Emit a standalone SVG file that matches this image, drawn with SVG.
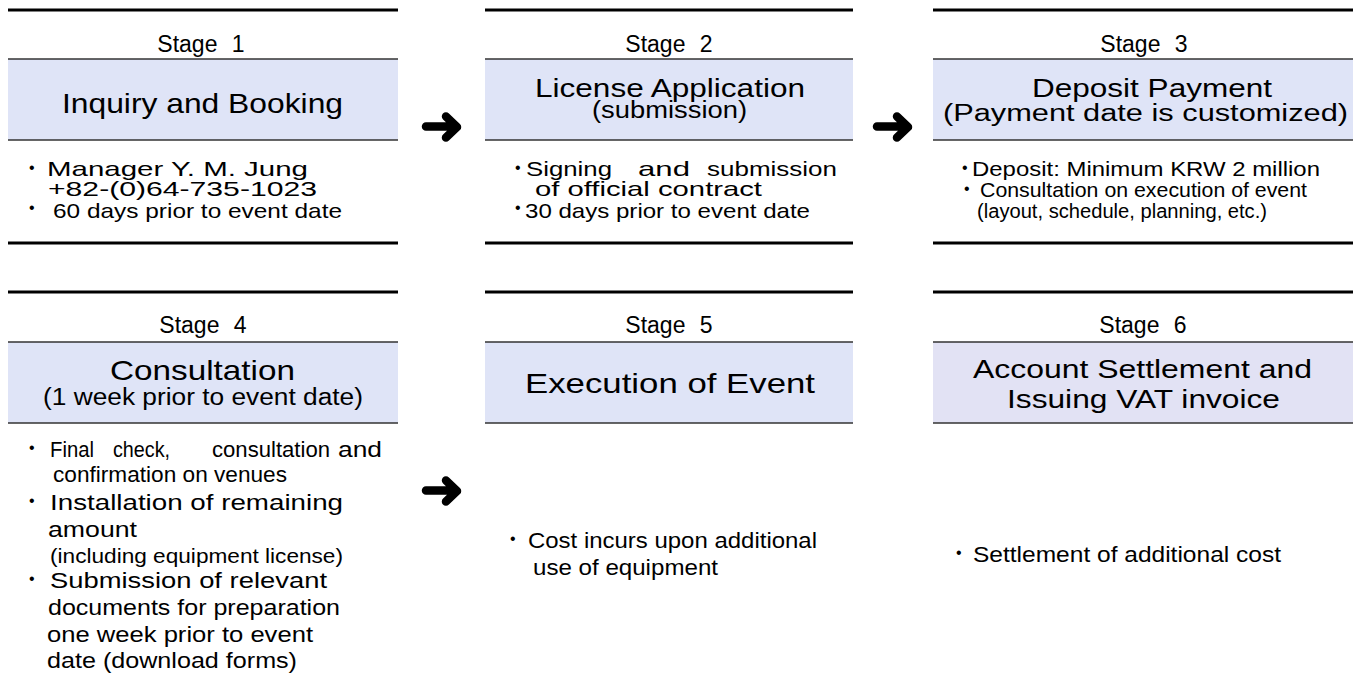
<svg xmlns="http://www.w3.org/2000/svg" width="1358" height="683" viewBox="0 0 1358 683">
<style>
text{font-family:"Liberation Sans",Arial,sans-serif;fill:#000}
.stage{font-size:23px;text-anchor:middle;word-spacing:8px}
.t{font-size:28px}
.t2{font-size:25px}
.sub{font-size:23px}
.b{font-size:22px}
.b1{font-size:21px}
.bs{font-size:20px}
.dot{font-size:16px}
.thick{stroke:#000;stroke-width:3;fill:none}
.thin{stroke:#333;stroke-width:1.5;fill:none}
.fill{fill:#dfe4f7}
.fill6{fill:#e2e2f4}
.arrow{stroke:#000;stroke-width:8.5;fill:none;stroke-linecap:round;stroke-linejoin:round}
</style>

<g id="stage1">
<rect class="fill" x="8" y="59" width="390" height="81"/>
<line class="thick" x1="8" y1="10" x2="398" y2="10"/>
<line class="thin" x1="8" y1="59" x2="398" y2="59"/>
<line class="thin" x1="8" y1="140" x2="398" y2="140"/>
<line class="thick" x1="8" y1="243" x2="398" y2="243"/>
<text class="stage" x="201" y="52">Stage 1</text>
<text class="t" x="62" y="113" textLength="281" lengthAdjust="spacingAndGlyphs">Inquiry and Booking</text>
<text class="dot" x="29" y="173">•</text>
<text class="b1" x="47" y="176" textLength="261" lengthAdjust="spacingAndGlyphs">Manager Y. M. Jung</text>
<text class="b1" x="48" y="196" textLength="269" lengthAdjust="spacingAndGlyphs">+82-(0)64-735-1023</text>
<text class="dot" x="29" y="213">•</text>
<text class="b1" x="53" y="218" textLength="289" lengthAdjust="spacingAndGlyphs">60 days prior to event date</text>
</g>

<g id="stage2">
<rect class="fill" x="485" y="59" width="368" height="81"/>
<line class="thick" x1="485" y1="10" x2="853" y2="10"/>
<line class="thin" x1="485" y1="59" x2="853" y2="59"/>
<line class="thin" x1="485" y1="140" x2="853" y2="140"/>
<line class="thick" x1="485" y1="243" x2="853" y2="243"/>
<text class="stage" x="669" y="52">Stage 2</text>
<text class="t2" x="535" y="97" textLength="270" lengthAdjust="spacingAndGlyphs">License Application</text>
<text class="sub" x="592" y="118" textLength="155" lengthAdjust="spacingAndGlyphs">(submission)</text>
<text class="dot" x="515" y="173">•</text>
<text class="b1" y="176"><tspan x="526" textLength="86" lengthAdjust="spacingAndGlyphs">Signing</tspan> <tspan x="638" textLength="52" lengthAdjust="spacingAndGlyphs">and</tspan> <tspan x="707" textLength="130" lengthAdjust="spacingAndGlyphs">submission</tspan></text>
<text class="b1" x="535" y="196" textLength="227" lengthAdjust="spacingAndGlyphs">of official contract</text>
<text class="dot" x="515" y="213">•</text>
<text class="b1" x="525" y="218" textLength="285" lengthAdjust="spacingAndGlyphs">30 days prior to event date</text>
</g>

<g id="stage3">
<rect class="fill" x="933" y="59" width="420" height="81"/>
<line class="thick" x1="933" y1="10" x2="1353" y2="10"/>
<line class="thin" x1="933" y1="59" x2="1353" y2="59"/>
<line class="thin" x1="933" y1="140" x2="1353" y2="140"/>
<line class="thick" x1="933" y1="243" x2="1353" y2="243"/>
<text class="stage" x="1144" y="52">Stage 3</text>
<text class="t2" x="1032" y="97" textLength="240" lengthAdjust="spacingAndGlyphs">Deposit Payment</text>
<text class="sub" x="943" y="121" textLength="405" lengthAdjust="spacingAndGlyphs">(Payment date is customized)</text>
<text class="dot" x="962" y="173">•</text>
<text class="b1" x="972" y="176" textLength="348" lengthAdjust="spacingAndGlyphs">Deposit: Minimum KRW 2 million</text>
<text class="dot" x="964" y="194">•</text>
<text class="b1" x="980" y="197" textLength="327" lengthAdjust="spacingAndGlyphs">Consultation on execution of event</text>
<text class="bs" x="977" y="218" textLength="290" lengthAdjust="spacingAndGlyphs">(layout, schedule, planning, etc.)</text>
</g>

<g id="stage4">
<rect class="fill" x="8" y="342" width="390" height="81"/>
<line class="thick" x1="8" y1="292" x2="398" y2="292"/>
<line class="thin" x1="8" y1="342" x2="398" y2="342"/>
<line class="thin" x1="8" y1="423" x2="398" y2="423"/>
<text class="stage" x="203" y="333">Stage 4</text>
<text class="t" x="110" y="380" textLength="185" lengthAdjust="spacingAndGlyphs">Consultation</text>
<text class="sub" x="43" y="405" textLength="320" lengthAdjust="spacingAndGlyphs">(1 week prior to event date)</text>
<text class="dot" x="29" y="453">•</text>
<text class="b" y="457"><tspan x="50" textLength="44" lengthAdjust="spacingAndGlyphs">Final</tspan> <tspan x="113" textLength="57" lengthAdjust="spacingAndGlyphs">check,</tspan> <tspan x="212" textLength="118" lengthAdjust="spacingAndGlyphs">consultation</tspan> <tspan x="338" textLength="44" lengthAdjust="spacingAndGlyphs">and</tspan></text>
<text class="b" x="53" y="482" textLength="234" lengthAdjust="spacingAndGlyphs">confirmation on venues</text>
<text class="dot" x="29" y="506">•</text>
<text class="b" x="50" y="510" textLength="293" lengthAdjust="spacingAndGlyphs">Installation of remaining</text>
<text class="b" x="48" y="537" textLength="89" lengthAdjust="spacingAndGlyphs">amount</text>
<text class="bs" x="50" y="563" textLength="293" lengthAdjust="spacingAndGlyphs">(including equipment license)</text>
<text class="dot" x="29" y="584">•</text>
<text class="b" x="50" y="588" textLength="277" lengthAdjust="spacingAndGlyphs">Submission of relevant</text>
<text class="b" x="48" y="615" textLength="292" lengthAdjust="spacingAndGlyphs">documents for preparation</text>
<text class="b" x="47" y="642" textLength="266" lengthAdjust="spacingAndGlyphs">one week prior to event</text>
<text class="b" x="47" y="668" textLength="250" lengthAdjust="spacingAndGlyphs">date (download forms)</text>
</g>

<g id="stage5">
<rect class="fill" x="485" y="342" width="368" height="81"/>
<line class="thick" x1="485" y1="292" x2="853" y2="292"/>
<line class="thin" x1="485" y1="342" x2="853" y2="342"/>
<line class="thin" x1="485" y1="423" x2="853" y2="423"/>
<text class="stage" x="669" y="333">Stage 5</text>
<text class="t" x="525" y="393" textLength="290" lengthAdjust="spacingAndGlyphs">Execution of Event</text>
<text class="dot" x="510" y="544">•</text>
<text class="b" x="528" y="548" textLength="289" lengthAdjust="spacingAndGlyphs">Cost incurs upon additional</text>
<text class="b" x="533" y="575" textLength="185" lengthAdjust="spacingAndGlyphs">use of equipment</text>
</g>

<g id="stage6">
<rect class="fill6" x="933" y="342" width="420" height="81"/>
<line class="thick" x1="933" y1="292" x2="1353" y2="292"/>
<line class="thin" x1="933" y1="342" x2="1353" y2="342"/>
<line class="thin" x1="933" y1="423" x2="1353" y2="423"/>
<text class="stage" x="1143" y="333">Stage 6</text>
<text class="t2" x="973" y="378" textLength="339" lengthAdjust="spacingAndGlyphs">Account Settlement and</text>
<text class="t2" x="1007" y="408" textLength="273" lengthAdjust="spacingAndGlyphs">Issuing VAT invoice</text>
<text class="dot" x="956" y="558">•</text>
<text class="b" x="973" y="562" textLength="308" lengthAdjust="spacingAndGlyphs">Settlement of additional cost</text>
</g>

<g id="connectors">
<path class="arrow" d="M426 126.5 H455 M446 116.5 L457 127 L446 137.5"/>
<path class="arrow" d="M877 126.5 H906 M897 116.5 L908 127 L897 137.5"/>
<path class="arrow" d="M426 490.5 H455 M446 480.5 L457 491 L446 501.5"/>
</g>
</svg>
